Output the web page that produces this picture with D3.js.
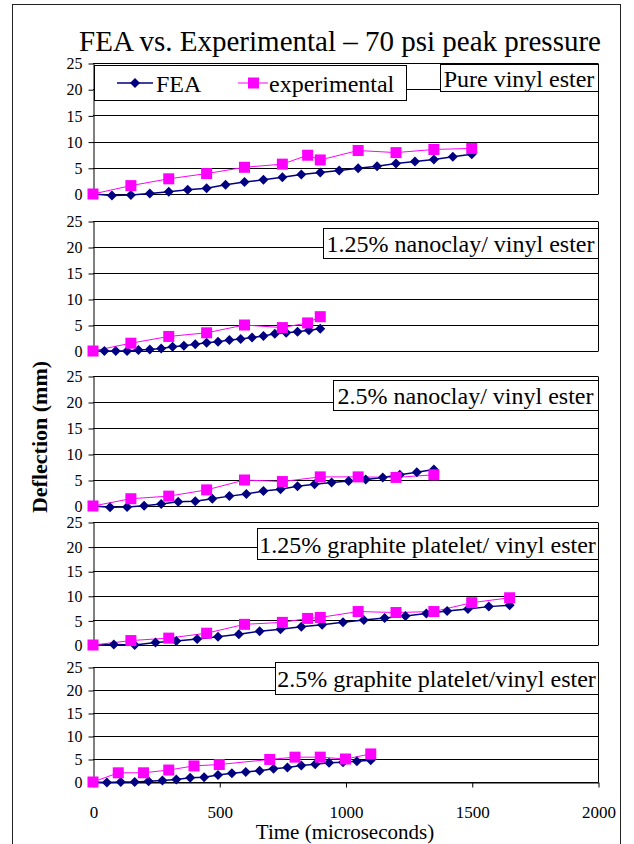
<!DOCTYPE html>
<html>
<head>
<meta charset="utf-8">
<script src="https://cdn.jsdelivr.net/npm/d3@7"></script>
<style>
  body { margin: 0; background: #fff; }
  svg text { font-family: 'Liberation Serif', 'Times New Roman', Times, serif !important; fill: #000; }
</style>
</head>
<body>
<svg id="svg" width="634" height="844"></svg>
<script>
// ---- data ----
const chartTitle = "FEA vs. Experimental \u2013 70 psi peak pressure";
const panelNames = [
  "Pure vinyl ester",
  "1.25% nanoclay/ vinyl ester",
  "2.5% nanoclay/ vinyl ester",
  "1.25% graphite platelet/ vinyl ester",
  "2.5% graphite platelet/vinyl ester"
];
const yTicks = [0, 5, 10, 15, 20, 25];
const xTicks = [0, 500, 1000, 1500, 2000];

// pure vinyl ester
const feaTime1 = [0, 75, 150, 225, 300, 375, 450, 525, 600, 675, 750, 825, 900, 975, 1050, 1125, 1200, 1275, 1350, 1425, 1500];
const feaVal1  = [0, -0.3, -0.2, 0.1, 0.45, 0.8, 1.1, 1.75, 2.3, 2.7, 3.2, 3.7, 4.1, 4.5, 4.9, 5.3, 5.8, 6.2, 6.6, 7.1, 7.6];
const expTime1 = [0, 150, 300, 450, 600, 750, 850, 900, 1050, 1200, 1350, 1500];
const expVal1  = [0, 1.6, 2.9, 3.9, 5.1, 5.7, 7.4, 6.5, 8.3, 7.9, 8.5, 8.7];

// 1.25% nanoclay
const feaTime2 = [0, 45, 90, 135, 180, 225, 270, 315, 360, 405, 450, 495, 540, 585, 630, 675, 720, 765, 810, 855, 900];
const feaVal2  = [0, 0, 0, 0, 0.2, 0.3, 0.5, 0.8, 1.0, 1.3, 1.6, 1.8, 2.1, 2.3, 2.6, 2.9, 3.3, 3.5, 3.7, 4.0, 4.3];
const expTime2 = [0, 150, 300, 450, 600, 750, 850, 900];
const expVal2  = [0, 1.5, 2.8, 3.5, 5.0, 4.5, 5.4, 6.6];

// 2.5% nanoclay
const feaTime3 = [0, 67.5, 135, 202.5, 270, 337.5, 405, 472.5, 540, 607.5, 675, 742.5, 810, 877.5, 945, 1012.5, 1080, 1147.5, 1215, 1282.5, 1350];
const feaVal3  = [0, -0.25, -0.2, 0.05, 0.4, 0.8, 0.9, 1.4, 1.9, 2.3, 2.9, 3.2, 3.8, 4.2, 4.5, 4.8, 5.1, 5.5, 6.0, 6.5, 7.0];
const expTime3 = [0, 150, 300, 450, 600, 750, 900, 1050, 1200, 1350];
const expVal3  = [0, 1.4, 1.9, 3.1, 5.0, 4.7, 5.6, 5.6, 5.5, 6.0];

// 1.25% graphite platelet
const feaTime4 = [0, 82.5, 165, 247.5, 330, 412.5, 495, 577.5, 660, 742.5, 825, 907.5, 990, 1072.5, 1155, 1237.5, 1320, 1402.5, 1485, 1567.5, 1650];
const feaVal4  = [0, 0.1, 0, 0.5, 0.8, 1.2, 1.7, 2.2, 2.8, 3.2, 3.7, 4.1, 4.6, 5.1, 5.5, 5.9, 6.4, 6.9, 7.3, 7.8, 8.1];
const expTime4 = [0, 150, 300, 450, 600, 750, 850, 900, 1050, 1200, 1350, 1500, 1650];
const expVal4  = [0, 0.9, 1.4, 2.4, 4.2, 4.6, 5.4, 5.6, 6.8, 6.6, 6.8, 8.6, 9.6];

// 2.5% graphite platelet
const feaTime5 = [0, 55, 110, 165, 220, 275, 330, 385, 440, 495, 550, 605, 660, 715, 770, 825, 880, 935, 990, 1045, 1100];
const feaVal5  = [0, -0.1, 0, 0, 0.15, 0.35, 0.55, 0.9, 1.05, 1.5, 1.9, 2.2, 2.45, 2.9, 3.15, 3.6, 3.85, 4.2, 4.3, 4.5, 4.75];
const expTime5 = [0, 100, 200, 300, 400, 500, 700, 800, 900, 1000, 1100];
const expVal5  = [0, 2.0, 2.0, 2.6, 3.5, 3.8, 4.9, 5.4, 5.4, 5.0, 6.1];

const feaTimes = [feaTime1, feaTime2, feaTime3, feaTime4, feaTime5];
const feaVals  = [feaVal1, feaVal2, feaVal3, feaVal4, feaVal5];
const expTimes = [expTime1, expTime2, expTime3, expTime4, expTime5];
const expVals  = [expVal1, expVal2, expVal3, expVal4, expVal5];

// ---- layout ----
const serif = "'Liberation Serif', 'Times New Roman', Times, serif";
const plotLeft = 93, plotRight = 598;
const panelTop    = [63, 221, 376, 522, 667];
const panelBottom = [194, 351, 506, 645, 782];
const labelBox = [
  {x: 440, y: 64, w: 158, h: 27},
  {x: 323, y: 228, w: 275, h: 30},
  {x: 333, y: 380, w: 265, h: 30},
  {x: 257, y: 528, w: 341, h: 31},
  {x: 275, y: 662, w: 323, h: 32}
];
const feaColor = "#000080", expColor = "#ff00ff";

const svg = d3.select("#svg").attr("font-family", serif);

// outer frame
svg.append("rect")
  .attr("x", 12.5).attr("y", 4.5)
  .attr("width", 608).attr("height", 860)
  .attr("fill", "#fff").attr("stroke", "#222").attr("stroke-width", 1);

svg.append("text")
  .attr("x", 340).attr("y", 51)
  .attr("text-anchor", "middle")
  .style("font-size", "29px")
  .text(chartTitle);

const xScale = d3.scaleLinear().domain([0, 2000]).range([plotLeft, plotRight]);

const diamond = "M0,-5L5,0L0,5L-5,0Z";

panelNames.forEach((name, i) => {
  const g = svg.append("g");
  const yScale = d3.scaleLinear().domain([0, 25]).range([panelBottom[i], panelTop[i]]);

  // grid lines
  g.selectAll(".grid")
    .data(yTicks)
    .enter()
    .append("line")
    .attr("x1", plotLeft).attr("x2", plotRight)
    .attr("y1", d => Math.round(yScale(d)) + 0.5)
    .attr("y2", d => Math.round(yScale(d)) + 0.5)
    .attr("stroke", "#000").attr("stroke-width", 1);

  // right edge of plot area
  g.append("line")
    .attr("x1", plotRight + 0.5).attr("x2", plotRight + 0.5)
    .attr("y1", Math.round(panelTop[i]) + 0.5).attr("y2", Math.round(panelBottom[i]) + 0.5)
    .attr("stroke", "#000");

  // y axis
  const yAxis = g.append("g")
    .attr("transform", `translate(${plotLeft + 0.5}, 0.5)`)
    .call(d3.axisLeft(yScale).tickValues(yTicks).tickSize(5).tickPadding(6).tickSizeOuter(0));
  yAxis.attr("font-family", serif).attr("font-size", 16);
  yAxis.select(".domain").attr("stroke", "#000");
  yAxis.selectAll(".tick line").attr("stroke", "#000");
  yAxis.selectAll(".tick text").attr("fill", "#000");

  // x axis only on last panel
  if (i === panelNames.length - 1) {
    const xAxis = g.append("g")
      .attr("transform", `translate(0.5, ${Math.round(panelBottom[i]) + 0.5})`)
      .call(d3.axisBottom(xScale).tickValues(xTicks).tickFormat(d3.format("d"))
        .tickSize(5).tickPadding(18).tickSizeOuter(0));
    xAxis.attr("font-family", serif).attr("font-size", 17);
    xAxis.select(".domain").attr("stroke", "#000");
    xAxis.selectAll(".tick line").attr("stroke", "#000");
    xAxis.selectAll(".tick text").attr("fill", "#000");
  }

  const fea = feaTimes[i].map((t, k) => [t, feaVals[i][k]]);
  const exp = expTimes[i].map((t, k) => [t, expVals[i][k]]);
  const line = d3.line().x(d => xScale(d[0])).y(d => yScale(d[1]));

  g.append("path").datum(fea)
    .attr("d", line).attr("fill", "none")
    .attr("stroke", feaColor).attr("stroke-width", 1.5);
  g.append("path").datum(exp)
    .attr("d", line).attr("fill", "none")
    .attr("stroke", expColor).attr("stroke-width", 1);

  g.selectAll(".fea")
    .data(fea)
    .enter()
    .append("path")
    .attr("d", diamond)
    .attr("transform", d => `translate(${xScale(d[0])}, ${yScale(d[1])})`)
    .attr("fill", feaColor);

  g.selectAll(".exp")
    .data(exp)
    .enter()
    .append("rect")
    .attr("x", d => xScale(d[0]) - 5.5)
    .attr("y", d => yScale(d[1]) - 5.5)
    .attr("width", 11).attr("height", 11)
    .attr("fill", expColor);

  // panel label
  const b = labelBox[i];
  g.append("rect")
    .attr("x", b.x + 0.5).attr("y", b.y + 0.5)
    .attr("width", b.w).attr("height", b.h)
    .attr("fill", "#fff").attr("stroke", "#000");
  g.append("text")
    .attr("x", b.x + b.w / 2).attr("y", b.y + b.h / 2 + 1)
    .attr("dy", "0.35em")
    .attr("text-anchor", "middle")
    .style("font-size", "24px")
    .text(name);
});

// legend
const legend = svg.append("g");
legend.append("rect")
  .attr("x", 94.5).attr("y", 65.5).attr("width", 312).attr("height", 35)
  .attr("fill", "#fff").attr("stroke", "#000");
legend.append("line")
  .attr("x1", 117).attr("x2", 153).attr("y1", 83).attr("y2", 83)
  .attr("stroke", feaColor).attr("stroke-width", 1.5);
legend.append("path").attr("d", diamond)
  .attr("transform", "translate(135, 83)").attr("fill", feaColor);
legend.append("text")
  .attr("x", 156).attr("y", 84).attr("dy", "0.35em")
  .style("font-size", "24px").text("FEA");
legend.append("line")
  .attr("x1", 238).attr("x2", 268).attr("y1", 83).attr("y2", 83)
  .attr("stroke", expColor).attr("stroke-width", 1);
legend.append("rect")
  .attr("x", 248).attr("y", 77.5).attr("width", 11).attr("height", 11)
  .attr("fill", expColor);
legend.append("text")
  .attr("x", 269).attr("y", 84).attr("dy", "0.35em")
  .style("font-size", "24px").text("experimental");

// axis titles
svg.append("text")
  .attr("transform", "translate(47, 437) rotate(-90)")
  .attr("text-anchor", "middle")
  .style("font-size", "22px").style("font-weight", "bold")
  .text("Deflection (mm)");

svg.append("text")
  .attr("x", 345).attr("y", 839)
  .attr("text-anchor", "middle")
  .style("font-size", "21px")
  .text("Time (microseconds)");
</script>
</body>
</html>
